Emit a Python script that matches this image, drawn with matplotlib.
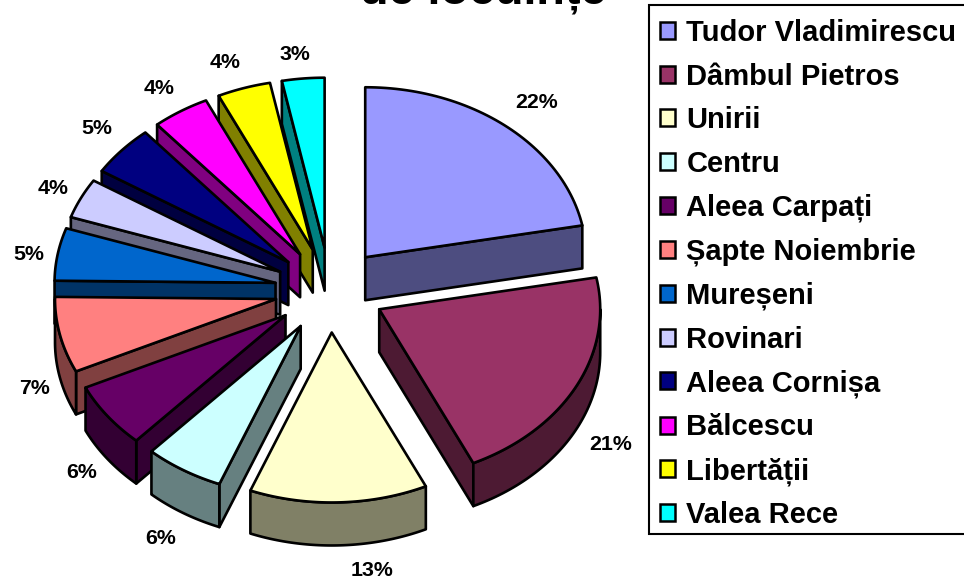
import numpy as np
import matplotlib
matplotlib.use("Agg")
import matplotlib.pyplot as plt
from matplotlib.patches import Patch, Rectangle

plt.rcParams['font.family'] = ['Liberation Sans', 'DejaVu Sans']

# Data
categories = ["Tudor Vladimirescu", "Dâmbul Pietros", "Unirii", "Centru", "Aleea Carpați",
              "Șapte Noiembrie", "Mureșeni", "Rovinari", "Aleea Cornișa", "Bălcescu",
              "Libertății", "Valea Rece"]
shares = [22.0, 21.0, 13.0, 5.8, 6.2, 7.2, 5.0, 3.8, 4.8, 4.2, 3.9, 3.1]
labels = ["22%", "21%", "13%", "6%", "6%", "7%", "5%", "4%", "5%", "4%", "4%", "3%"]
top_colors = ["#9999FF", "#993366", "#FFFFCC", "#CCFFFF", "#660066", "#FF8080",
              "#0066CC", "#CCCCFF", "#000080", "#FF00FF", "#FFFF00", "#00FFFF"]
side_colors = ["#4D4D80", "#4D1A33", "#808066", "#668080", "#330033", "#804040",
               "#003366", "#666680", "#000040", "#800080", "#808000", "#008080"]
label_xy = [(537, 103), (611, 445), (372, 571), (161, 539), (82, 473), (35, 388),
            (29, 255), (53, 189), (97, 128), (159, 88), (225, 62), (295, 54)]

# Layout of the pie (pixels of the figure)
CX, CY = 330, 290
RX, RY = 221, 170
EXPLODE = 0.25
DEPTH = 43
LW = 1.9

fig = plt.figure(figsize=(9.64, 5.79), dpi=100)
ax = fig.add_axes([0, 0, 1, 1])
ax.set_xlim(0, 964)
ax.set_ylim(579, 0)
ax.axis("off")

fractions = np.array(shares) / sum(shares) * 2 * np.pi
ends = np.cumsum(fractions)
starts = ends - fractions


def draw_slice(i, z):
    a0, a1 = starts[i], ends[i]
    mid = (a0 + a1) / 2
    tx = CX + EXPLODE * RX * np.sin(mid)
    ty = CY - EXPLODE * RY * np.cos(mid)
    px = lambda a: tx + RX * np.sin(a)
    py = lambda a: ty - RY * np.cos(a)
    wall = dict(fc=side_colors[i], ec="black", lw=LW, joinstyle="round", zorder=z)
    # radial walls that face the viewer
    if a1 <= np.pi:
        ax.fill([tx, px(a1), px(a1), tx], [ty, py(a1), py(a1) + DEPTH, ty + DEPTH], **wall)
    if a0 >= np.pi:
        ax.fill([tx, px(a0), px(a0), tx], [ty, py(a0), py(a0) + DEPTH, ty + DEPTH], **wall)
    # outer wall: only the front half of the rim faces the viewer
    w0, w1 = max(a0, np.pi / 2), min(a1, 3 * np.pi / 2)
    if w1 > w0:
        th = np.linspace(w0, w1, 60)
        ax.fill(np.r_[px(th), px(th)[::-1]], np.r_[py(th), py(th)[::-1] + DEPTH], **wall)
    # top face
    th = np.linspace(a0, a1, 60)
    ax.fill(np.r_[tx, px(th)], np.r_[ty, py(th)], fc=top_colors[i], ec="black",
            lw=LW, joinstyle="round", zorder=z + 0.5)


order = [11, 10, 9, 8, 7, 6, 5, 4, 3, 0, 1, 2]
for n, s in enumerate(order):
    draw_slice(s, 2 + n)

for txt, (x, y) in zip(labels, label_xy):
    ax.text(x, y, txt, ha="center", va="center", fontsize=15.4, fontweight="bold", zorder=40)

ax.text(483, 3, "de locuințe", ha="center", va="baseline", fontsize=33.7,
        fontweight="bold", zorder=40)

ax.add_patch(Rectangle((649, 5), 330, 529, fc="white", ec="black", lw=1.5, zorder=49))
handles = [Patch(fc=c, ec="black", lw=1.8) for c in top_colors]
leg = ax.legend(handles, categories, loc="upper left", bbox_to_anchor=(660, 19),
                bbox_transform=ax.transData, prop={"size": 21, "weight": "bold"},
                frameon=False, borderaxespad=0, borderpad=0, labelspacing=0.535,
                handlelength=0.52, handleheight=0.52, handletextpad=0.38)
leg.set_zorder(50)

fig.savefig("out.png", dpi=100)
